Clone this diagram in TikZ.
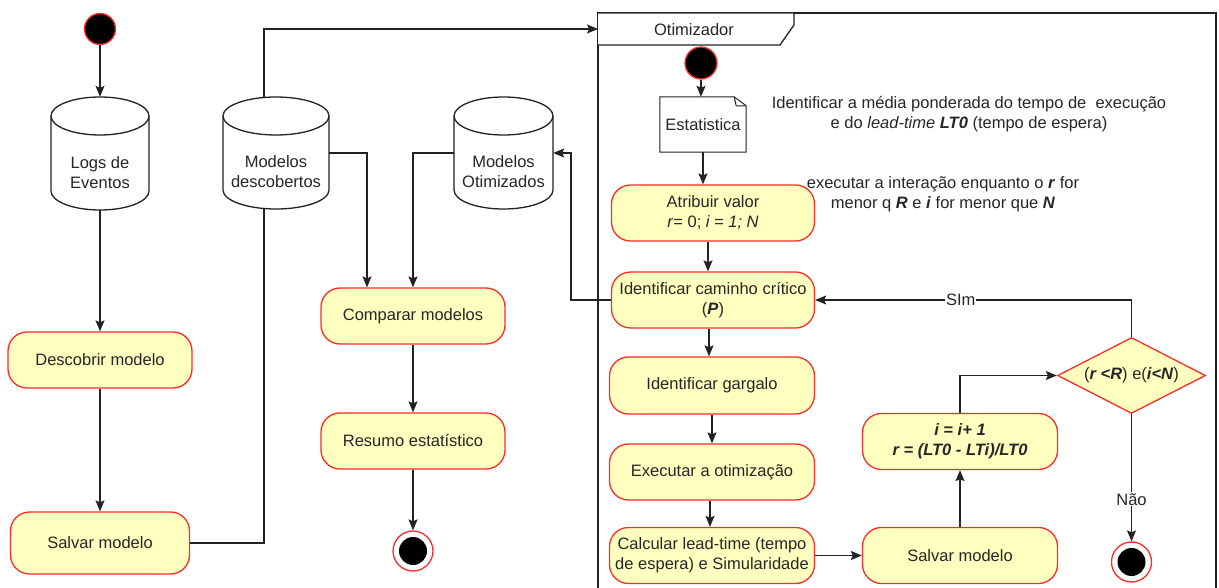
\documentclass[tikz,border=0pt]{standalone}
\usepackage{fontspec}
\setmainfont{Liberation Sans}
\usetikzlibrary{shapes.geometric,arrows.meta,calc}
\definecolor{actfill}{HTML}{FFFFC0}
\definecolor{actline}{HTML}{FF2A2A}
\definecolor{ink}{HTML}{262626}
\definecolor{wire}{HTML}{222222}

% data store drawn as a cylinder: name, centre x, top y, half width, height, text
\newcommand{\storage}[6]{%
  \filldraw[link, fill=white] (#2-#4,#3+19) -- (#2-#4,#3+#5-19)
     arc[start angle=180, end angle=360, x radius=#4pt, y radius=19pt]
     -- (#2+#4,#3+19)
     arc[start angle=0, end angle=180, x radius=#4pt, y radius=19pt] -- cycle;
  \draw[link] (#2-#4,#3+19) arc[start angle=180, end angle=360, x radius=#4pt, y radius=19pt];
  \node[minimum width=2*#4pt, minimum height=#5pt, inner sep=0pt] (#1) at (#2,#3+#5/2) {};
  \node[align=center] (#1-label) at (#2,#3+19+#5/2) {#6};
}

\begin{document}
\begin{tikzpicture}[x=1pt,y=-1pt,
  every node/.style={font=\fontsize{16.5}{20}\selectfont, text=ink},
  activity/.style={draw=actline, fill=actfill, line width=1.3pt, rounded corners=19pt,
                   align=center, inner sep=0pt},
  link/.style={draw=wire, line width=1.3pt},
  flow/.style={link, -{Stealth[length=11pt,width=9pt,inset=2pt]}},
  initial/.style={circle, draw=actline, fill=black, line width=1.3pt, minimum size=31pt, inner sep=0pt},
  final/.style={circle, draw=actline, fill=white, line width=1.3pt, minimum size=40pt, inner sep=0pt},
  guard/.style={fill=white, inner sep=1pt},
]
\useasboundingbox (0,0) rectangle (1219,588);

% ---------- Otimizador frame ----------
\draw[link] (598,600) -- (598,13) -- (1216,13) -- (1216,600);
\draw[link, fill=white] (598,13) -- (794,13) -- (794,25) -- (780,45) -- (598,45);
\node (frameTitle) at (694,30) {Otimizador};
\coordinate (framein) at (598,29);

% ---------- left flow ----------
\node[initial] (init1) at (100,29) {};
\storage{logs}{100}{97}{49}{113}{Logs de\\Eventos}
\node[activity, minimum width=184pt, minimum height=56pt] (desc) at (100,360) {Descobrir modelo};
\node[activity, minimum width=179pt, minimum height=62pt] (salv1) at (100,543) {Salvar modelo};

\storage{descob}{276}{97}{53}{112}{Modelos\\descobertos}
\storage{otim}{503.5}{97}{49.5}{112}{Modelos\\Otimizados}

\node[activity, minimum width=184pt, minimum height=56pt] (comp) at (413,316) {Comparar modelos};
\node[activity, minimum width=184pt, minimum height=56pt] (resumo) at (413,441) {Resumo estatístico};
\node[final] (endA) at (413,551) {};
\fill[black] (endA.center) circle[radius=14pt];

\draw[flow] (init1.south) -- (logs.north);
\draw[flow] (logs.south) -- (desc.north);
\draw[flow] (desc.south) -- (salv1.north);
\draw[link] (salv1.east) -| ([xshift=-12pt]descob.south);
\draw[flow] ([xshift=-12pt]descob.north) |- (framein);
\draw[flow] (descob.east) -| ($(comp.north)+(-46,0)$);
\draw[flow] (otim.west) -| (comp.north);
\draw[flow] (comp.south) -- (resumo.north);
\draw[flow] (resumo.south) -- (endA.north);

% ---------- optimiser flow ----------
\node[initial, minimum size=32pt] (init2) at (701,63) {};
\node[minimum width=86pt, minimum height=55pt, inner sep=0pt] (stat) at (703,124.5) {Estatistica};
\draw[link, line width=1pt] (stat.south west) -- (stat.north west) -- ([xshift=-12pt]stat.north east)
   -- ([yshift=-9pt]stat.north east) -- (stat.south east) -- cycle;
\draw[link, line width=1pt] ([xshift=-12pt]stat.north east) -- ([xshift=-10pt,yshift=-9pt]stat.north east)
   -- ([yshift=-9pt]stat.north east);

\node[align=center] (noteA) at (969,114)
  {\fontsize{16.5}{22}\selectfont Identificar a média ponderada do tempo de\ \ execução\\
   e do \textit{lead-time} \textbf{\textit{LT0}} (tempo de espera)};
\node[align=center] (noteB) at (943,194)
  {\fontsize{16.5}{19}\selectfont executar a interação enquanto o \textbf{\textit{r}} for\\
   menor q \textbf{\textit{R}} e \textbf{\textit{i}} for menor que \textbf{\textit{N}}};

\node[activity, minimum width=203pt, minimum height=56pt] (atrib) at (713,213)
  {Atribuir valor\\\textit{r}= 0; \textit{i = 1; N}};
\node[activity, minimum width=203pt, minimum height=56pt] (crit) at (713,300)
  {Identificar caminho crítico\\(\textbf{\textit{P}})};
\node[activity, minimum width=205pt, minimum height=57pt] (garg) at (712,385.5) {Identificar gargalo};
\node[activity, minimum width=205pt, minimum height=56pt] (exec) at (712,472) {Executar a otimização};
\node[activity, minimum width=205pt, minimum height=56pt] (calc) at (712,555.5)
  {Calcular lead-time (tempo\\de espera) e Simularidade};
\node[activity, minimum width=195pt, minimum height=56pt] (salv2) at (960,555.5) {Salvar modelo};
\node[activity, minimum width=195pt, minimum height=56pt] (incr) at (960,441.5)
  {\textbf{\textit{i = i+ 1}}\\\textbf{\textit{r = (LT0 - LTi)/LT0}}};
\node[diamond, draw=actline, fill=actfill, line width=1.3pt, minimum width=148pt, minimum height=76pt,
      aspect=1.9, inner sep=0pt] (cond) at (1131.5,375.5)
  {(\textbf{\textit{r <R}}) e(\textbf{\textit{i<N}})};
\node[final] (endB) at (1131.5,562) {};
\fill[black] (endB.center) circle[radius=14pt];

\coordinate (ret) at (571,300);

\draw[flow] (init2.south) -- (init2.south |- stat.north);
\draw[flow] (stat.south) -- (stat.south |- atrib.north);
\draw[flow] ([xshift=-5pt]atrib.south) -- ([xshift=-5pt]crit.north);
\draw[flow] ([xshift=-4pt]crit.south) -- ([xshift=-4pt]crit.south |- garg.north);
\draw[flow] (garg.south) -- (exec.north);
\draw[flow] ([xshift=-2pt]exec.south) -- ([xshift=-2pt]calc.north);
\draw[flow] (calc.east) -- (salv2.west);
\draw[flow] (salv2.north) -- (incr.north |- incr.south);
\draw[flow] (incr.north) |- (cond.west);
\draw[flow] (cond.north) |- node[guard, pos=0.77] (simLbl) {SIm} (crit.east);
\draw[flow] (cond.south) -- node[guard, pos=0.67] (naoLbl) {Não} (endB.north);
\draw[flow] (crit.west) -- (crit.west -| ret) |- (otim.east);

\end{tikzpicture}
\end{document}
